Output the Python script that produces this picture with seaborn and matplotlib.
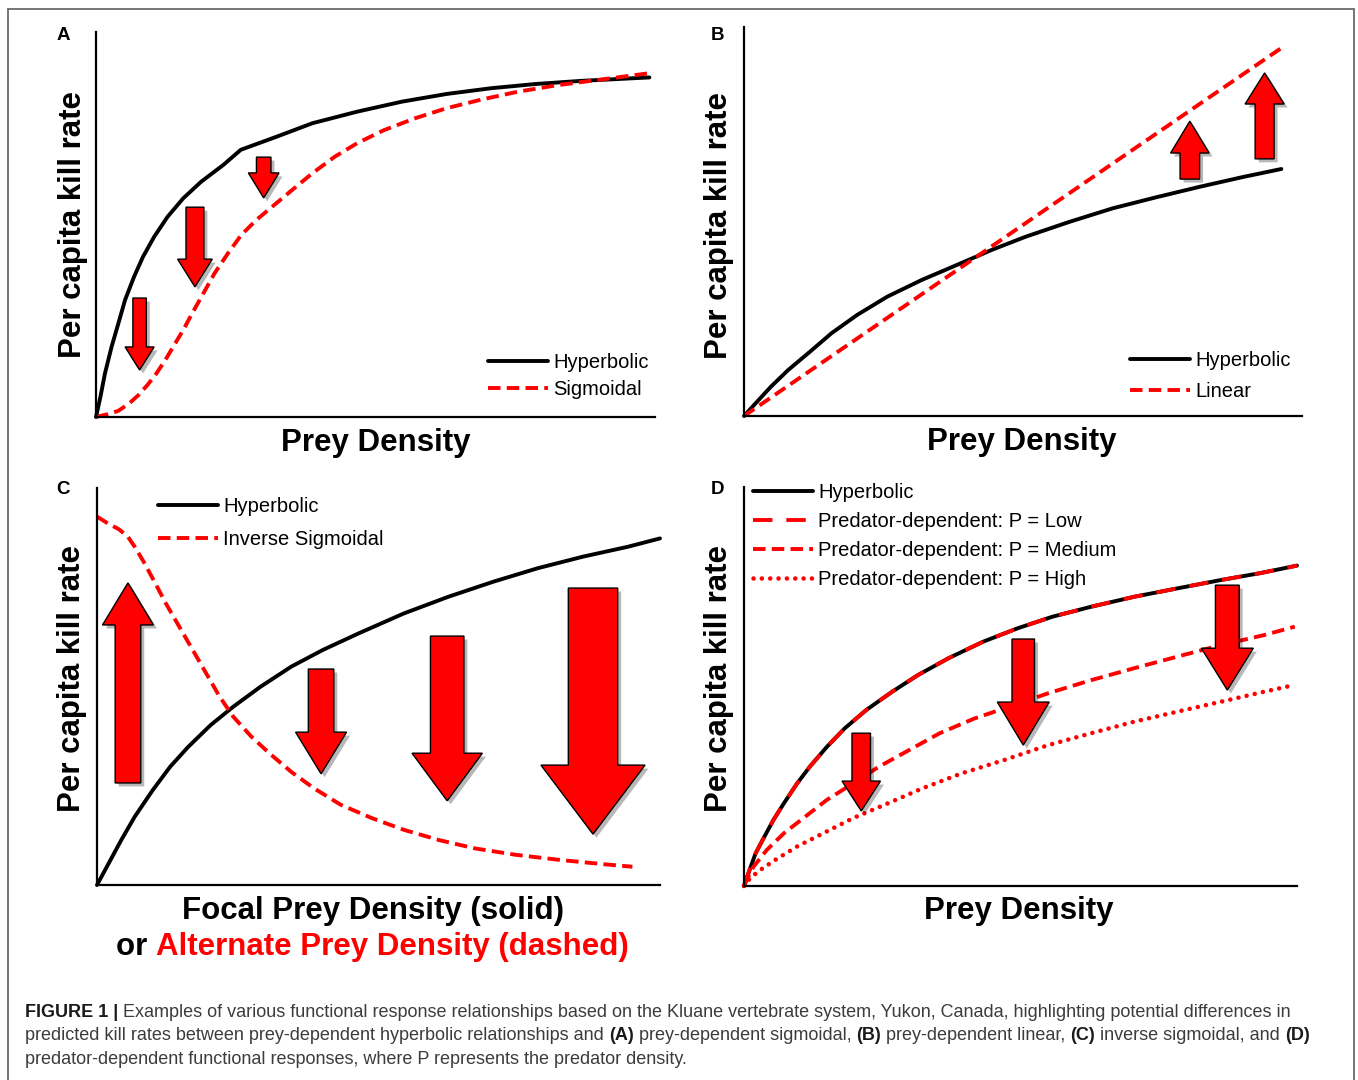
import numpy as np
import pandas as pd
import seaborn as sns
import matplotlib.pyplot as plt
import matplotlib.patheffects as pe
from matplotlib.patches import Polygon, Rectangle

# ---------------- data (curve shapes, arbitrary units 0-100) ----------------
# Panel A: hyperbolic vs sigmoidal
a_x_hyp = [0, 0.8, 1.6, 2.8, 4.0, 5.2, 6.8, 8.4, 10.4, 12.8, 15.6, 18.8, 22.8, 25.9,
           32.3, 38.7, 46.7, 54.7, 62.7, 70.7, 78.7, 86.7, 99.0]
a_y_hyp = [0, 5.3, 11.3, 18.3, 24.3, 30.4, 36.4, 41.6, 46.8, 52.0, 56.8, 61.1, 65.5, 69.4,
           72.8, 76.3, 79.3, 81.9, 83.9, 85.4, 86.5, 87.3, 88.2]
a_x_sig = [0, 2.0, 4.0, 6.0, 7.6, 9.2, 10.8, 12.4, 14.0, 15.6, 17.2, 19.2, 21.2, 23.6, 26.0,
           28.7, 31.5, 34.7, 38.7, 42.7, 46.7, 51.5, 57.1, 62.7, 69.1, 75.5, 82.6, 90.6, 99.0]
a_y_sig = [0, 0.7, 1.6, 3.6, 5.7, 8.3, 11.3, 14.8, 18.7, 22.6, 26.9, 32.1, 37.3, 42.5, 47.3,
           51.2, 54.6, 58.5, 63.3, 67.6, 71.1, 74.5, 77.6, 80.2, 82.5, 84.5, 86.2, 87.7, 89.3]

# Panel B: hyperbolic vs linear
b_x_hyp = [0, 2.1, 4.8, 7.9, 11.8, 15.7, 20.3, 25.7, 31.9, 38.1, 44.4, 50.5, 58.3, 66.1,
           73.8, 81.6, 89.3, 96.3]
b_y_hyp = [0, 3.3, 7.5, 11.8, 16.5, 21.3, 26.0, 30.7, 35.0, 38.8, 42.7, 46.1, 49.9, 53.4,
           56.2, 58.9, 61.4, 63.5]
b_x_lin = [0, 96.3]
b_y_lin = [0, 94.6]

# Panel C: hyperbolic vs inverse sigmoidal
c_x_hyp = [0, 1.9, 4.3, 6.7, 9.9, 13.0, 16.2, 20.2, 24.2, 29.0, 34.5, 40.1, 46.5, 54.5,
           62.4, 70.4, 78.3, 86.3, 94.3, 100]
c_y_hyp = [0, 5.0, 11.3, 17.2, 23.9, 29.8, 34.8, 40.3, 44.9, 49.9, 55.0, 59.2, 63.4, 68.4,
           72.6, 76.4, 79.8, 82.7, 85.2, 87.3]
c_x_inv = [0, 1.9, 3.9, 5.5, 6.7, 8.3, 10.2, 12.2, 14.6, 17.0, 19.4, 21.8, 24.2, 27.4, 30.6,
           34.5, 38.5, 43.3, 48.9, 54.5, 60.8, 67.2, 74.4, 82.3, 90.3, 95.1]
c_y_inv = [92.8, 91.1, 89.6, 87.7, 85.2, 81.4, 76.4, 71.0, 65.1, 59.2, 53.3, 47.4, 42.4, 37.4,
           33.2, 28.5, 24.4, 20.2, 16.8, 13.9, 11.3, 9.2, 7.6, 6.3, 5.2, 4.6]

# Panel D: hyperbolic vs predator-dependent responses
d_x_hyp = [0, 1.0, 2.1, 3.7, 5.3, 7.2, 9.6, 11.9, 15.0, 18.2, 22.1, 26.8, 31.5, 37.0, 43.2,
           49.5, 55.8, 62.8, 70.6, 78.4, 86.3, 93.3, 100]
d_y_hyp = [0, 4.0, 8.2, 12.4, 16.5, 20.7, 25.7, 29.9, 34.9, 39.5, 44.1, 48.7, 52.9, 57.1, 61.2,
           64.6, 67.5, 70.0, 72.5, 74.6, 76.7, 78.4, 80.3]
d_x_low = [0, 1.0, 2.1, 3.7, 5.3, 7.2, 9.6, 11.9, 15.0, 18.2, 22.1, 26.8, 31.5, 37.0, 43.2,
           49.5, 55.8, 62.8, 70.6, 78.4, 86.3, 93.3, 100]
d_y_low = [0, 4.0, 8.2, 12.4, 16.5, 20.7, 25.7, 29.9, 34.9, 39.5, 44.1, 48.7, 52.9, 57.1, 61.2,
           64.6, 67.5, 70.0, 72.5, 74.6, 76.7, 78.4, 80.3]
d_x_med = [0, 0.2, 1.7, 4.1, 7.2, 11.1, 15.0, 19.7, 24.4, 29.9, 35.4, 41.7, 47.9, 55.0, 62.8,
           70.6, 78.4, 86.3, 94.1, 99.6]
d_y_med = [0, 0.7, 4.8, 9.0, 13.2, 17.4, 21.6, 25.7, 29.9, 34.1, 38.3, 42.0, 44.9, 48.3, 51.6,
           54.6, 57.5, 60.4, 62.9, 65.0]
d_x_high = [0, 0.2, 2.5, 5.6, 9.6, 14.3, 19.7, 26.0, 32.3, 39.3, 47.1, 55.0, 62.8, 70.6, 78.4,
            86.3, 94.1, 99.6]
d_y_high = [0, 0.7, 3.6, 6.5, 9.9, 13.2, 17.0, 20.7, 24.5, 28.2, 31.6, 35.3, 38.3, 41.2, 43.7,
            46.2, 48.7, 50.4]

# Block arrows: centre x, tail y, tip y, shaft width, head width, head length
a_arr_x = [7.8, 17.7, 30.0]
a_arr_tail = [30.9, 54.5, 67.5]
a_arr_tip = [12.2, 33.8, 56.9]
a_arr_shaft = [2.4, 3.2, 2.6]
a_arr_head = [5.2, 6.2, 5.5]
a_arr_hlen = [6.0, 7.2, 6.5]

b_arr_x = [79.9, 93.3]
b_arr_tail = [60.9, 66.1]
b_arr_tip = [75.8, 88.2]
b_arr_shaft = [3.5, 3.4]
b_arr_head = [6.9, 7.0]
b_arr_hlen = [8.2, 8.0]

c_arr_x = [5.5, 39.8, 62.2, 88.1]
c_arr_tail = [25.7, 54.4, 62.7, 74.8]
c_arr_tip = [76.1, 28.0, 21.2, 12.8]
c_arr_shaft = [4.55, 4.53, 5.95, 8.77]
c_arr_head = [9.06, 9.06, 12.5, 18.5]
c_arr_hlen = [10.6, 10.5, 12.0, 17.4]

d_arr_x = [21.2, 50.5, 87.4]
d_arr_tail = [38.3, 61.9, 75.4]
d_arr_tip = [18.8, 35.3, 49.1]
d_arr_shaft = [3.35, 4.07, 4.3]
d_arr_head = [6.96, 9.4, 9.4]
d_arr_hlen = [7.5, 10.8, 10.5]

panel_letters = ["A", "B", "C", "D"]
y_label = "Per capita kill rate"
x_label = "Prey Density"
c_xlabel_1 = "Focal Prey Density (solid)"
c_xlabel_2a = "or "
c_xlabel_2b = "Alternate Prey Density (dashed)"

caption_lines = [
    [("FIGURE 1 | ", "bold"),
     ("Examples of various functional response relationships based on the Kluane vertebrate system, "
      "Yukon, Canada, highlighting potential differences in", "normal")],
    [("predicted kill rates between prey-dependent hyperbolic relationships and ", "normal"),
     ("(A)", "bold"), (" prey-dependent sigmoidal, ", "normal"), ("(B)", "bold"),
     (" prey-dependent linear, ", "normal"), ("(C)", "bold"),
     (" inverse sigmoidal, and ", "normal"), ("(D)", "bold")],
    [("predator-dependent functional responses, where P represents the predator density.", "normal")],
]

# ---------------- style ----------------
sns.set_theme(style="white")
plt.rcParams["font.family"] = ["Liberation Sans", "DejaVu Sans"]
plt.rcParams["lines.scale_dashes"] = False

RED = "#ff0000"
LW = 2.8
W, H = 1358, 1080
fig = plt.figure(figsize=(W / 100, H / 100), dpi=100)
fig.patch.set_facecolor("white")


def axes_px(left, top, right, bottom):
    return fig.add_axes([left / W, 1 - bottom / H, (right - left) / W, (bottom - top) / H])


def style_axes(ax):
    ax.set_xlim(0, 100)
    ax.set_ylim(0, 100)
    ax.set_facecolor("none")
    sns.despine(ax=ax)
    for s in ("left", "bottom"):
        ax.spines[s].set_color("black")
        ax.spines[s].set_linewidth(1.6)


def curve(ax, xs, ys, label, color, dashes=None, cap="butt", lw=LW):
    df = pd.DataFrame({"x": xs, "y": ys})
    sns.lineplot(data=df, x="x", y="y", ax=ax, color=color, linewidth=lw, label=label)
    ln = ax.lines[-1]
    ln.set_clip_on(False)
    ln.set_solid_capstyle("round")
    if dashes is not None:
        ln.set_dashes(dashes)
        ln.set_dash_capstyle(cap)
    return ln


shadow = [pe.SimplePatchShadow(offset=(2.5, -2.5), shadow_rgbFace="black", alpha=0.28), pe.Normal()]


def block_arrows(ax, xs, tails, tips, shafts, heads, hlens):
    for xc, y0, y1, sw, hw, hl in zip(xs, tails, tips, shafts, heads, hlens):
        s = 1 if y1 > y0 else -1
        yb = y1 - s * hl
        verts = [(xc - sw / 2, y0), (xc - sw / 2, yb), (xc - hw / 2, yb), (xc, y1),
                 (xc + hw / 2, yb), (xc + sw / 2, yb), (xc + sw / 2, y0)]
        p = Polygon(verts, closed=True, facecolor=RED, edgecolor="black", linewidth=1.0,
                    zorder=5, joinstyle="miter")
        p.set_path_effects(shadow)
        ax.add_patch(p)


def legend(ax, left_px, top_px, spacing):
    h, l = ax.get_legend_handles_labels()
    ax.legend(h, l, loc="upper left", bbox_to_anchor=(left_px / W, 1 - top_px / H),
              bbox_transform=fig.transFigure, frameon=False, fontsize=14.5,
              handlelength=3.0, handletextpad=0.25, borderpad=0, borderaxespad=0,
              labelspacing=spacing, labelcolor="black")


def axis_labels(ax, ylab_x, ylab_y, xlab_x, xlab_y, xlab=x_label):
    ax.set_xticks([])
    ax.set_yticks([])
    ax.set_ylabel(y_label, fontsize=22.5, fontweight="bold", color="black", visible=True)
    ax.yaxis.set_label_coords(ylab_x, ylab_y)
    ax.set_xlabel(xlab, fontsize=22.5, fontweight="bold", color="black", visible=True)
    ax.xaxis.set_label_coords(xlab_x, xlab_y)


# ---------------- Panel A ----------------
axA = axes_px(96, 32, 655, 417)
style_axes(axA)
curve(axA, a_x_hyp, a_y_hyp, "Hyperbolic", "black")
curve(axA, a_x_sig, a_y_sig, "Sigmoidal", RED, dashes=(9, 4.5))
block_arrows(axA, a_arr_x, a_arr_tail, a_arr_tip, a_arr_shaft, a_arr_head, a_arr_hlen)
legend(axA, 488, 353, 0.4)
axis_labels(axA, -0.015, 0.5, 0.5, -0.029)

# ---------------- Panel B ----------------
axB = axes_px(744, 27, 1302, 416)
style_axes(axB)
curve(axB, b_x_hyp, b_y_hyp, "Hyperbolic", "black")
curve(axB, b_x_lin, b_y_lin, "Linear", RED, dashes=(9, 4.5))
block_arrows(axB, b_arr_x, b_arr_tail, b_arr_tip, b_arr_shaft, b_arr_head, b_arr_hlen)
legend(axB, 1130, 351, 0.6)
axis_labels(axB, -0.018, 0.49, 0.498, -0.028)

# ---------------- Panel C ----------------
axC = axes_px(97, 488, 660, 885)
style_axes(axC)
curve(axC, c_x_hyp, c_y_hyp, "Hyperbolic", "black")
curve(axC, c_x_inv, c_y_inv, "Inverse Sigmoidal", RED, dashes=(9, 4.5))
block_arrows(axC, c_arr_x, c_arr_tail, c_arr_tip, c_arr_shaft, c_arr_head, c_arr_hlen)
legend(axC, 158, 497, 0.7)
axis_labels(axC, -0.018, 0.52, 0.49, -0.027, xlab=c_xlabel_1)

# ---------------- Panel D ----------------
axD = axes_px(744, 487, 1297, 886)
style_axes(axD)
curve(axD, d_x_hyp, d_y_hyp, "Hyperbolic", "black")
curve(axD, d_x_low, d_y_low, "Predator-dependent: P = Low", RED, dashes=(14, 10))
curve(axD, d_x_med, d_y_med, "Predator-dependent: P = Medium", RED, dashes=(9, 4.5))
curve(axD, d_x_high, d_y_high, "Predator-dependent: P = High", RED, dashes=(0.01, 6.0),
      cap="round", lw=3.3)
block_arrows(axD, d_arr_x, d_arr_tail, d_arr_tip, d_arr_shaft, d_arr_head, d_arr_hlen)
legend(axD, 753, 483, 0.5)
axis_labels(axD, -0.018, 0.52, 0.497, -0.026)

# ---------------- panel letters ----------------
for letter, (lx, ly) in zip(panel_letters, [(63, 35), (718, 35), (63, 490), (718, 490)]):
    fig.text(lx / W, 1 - ly / H, letter, fontsize=13.5, fontweight="bold",
             ha="center", va="center", color="black")

# ---------------- text runs with mixed styles ----------------
renderer = fig.canvas.get_renderer()


def run_width(s, **kw):
    t1 = fig.text(0, 0, s + "|", **kw)
    t2 = fig.text(0, 0, "|", **kw)
    w = t1.get_window_extent(renderer).width - t2.get_window_extent(renderer).width
    t1.remove()
    t2.remove()
    return w


def draw_runs(x_px, base_px, runs, size):
    x = x_px
    for s, weight, color in runs:
        fig.text(x / W, 1 - base_px / H, s, fontsize=size, fontweight=weight,
                 color=color, ha="left", va="baseline")
        x += run_width(s, fontsize=size, fontweight=weight)


# second line of the panel C x label: black "or" + red remainder
c_runs = [(c_xlabel_2a, "bold", "black"), (c_xlabel_2b, "bold", RED)]
c_total = sum(run_width(s, fontsize=22.5, fontweight=w) for s, w, _ in c_runs)
draw_runs(372.5 - c_total / 2, 955, c_runs, 22.5)

# caption, sized so the first line spans the caption width
base_size = 12.0
line1_w = sum(run_width(s, fontsize=base_size, fontweight=w) for s, w in caption_lines[0])
cap_size = base_size * 1265 / line1_w
for runs, base in zip(caption_lines, [1017, 1040.5, 1064]):
    draw_runs(25, base, [(s, w, "#1a1a1a" if w == "bold" else "#3c3c3c") for s, w in runs], cap_size)

# outer frame
fig.add_artist(Rectangle((8 / W, -0.02), (1354 - 8) / W, 1 - 9 / H + 0.02,
                         transform=fig.transFigure, fill=False, edgecolor="#6a6a6a",
                         linewidth=1.3, zorder=0))

fig.savefig("out.png", dpi=100, facecolor="white")
